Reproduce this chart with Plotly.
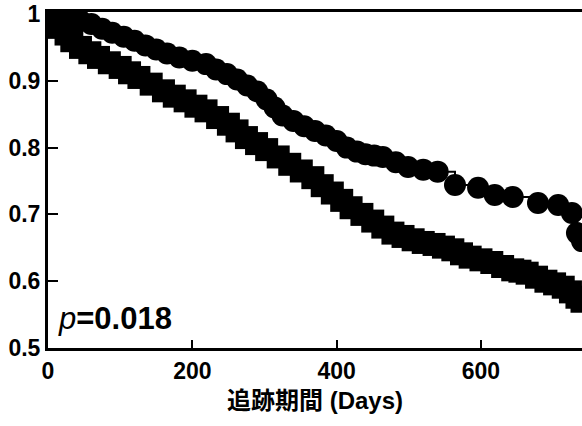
import plotly.graph_objects as go

# Upper curve (circles)
days_circle = [0, 10, 20, 30, 45, 60, 75, 89, 105, 120, 135, 150, 165, 182, 200, 219,
               233, 248, 262, 276, 290, 303, 314, 325, 340, 355, 370, 385, 400, 414,
               428, 440, 452, 464, 482, 499, 520, 540, 564, 596, 619, 644, 679, 707,
               726, 733, 740]
surv_circle = [1.0, 1.0, 0.997, 0.995, 0.99, 0.985, 0.978, 0.972, 0.966, 0.96, 0.953,
               0.947, 0.941, 0.935, 0.93, 0.925, 0.917, 0.91, 0.902, 0.893, 0.884, 0.872,
               0.86, 0.848, 0.84, 0.832, 0.825, 0.818, 0.81, 0.80, 0.794, 0.79, 0.788,
               0.786, 0.778, 0.771, 0.767, 0.764, 0.744, 0.74, 0.729, 0.726, 0.717,
               0.714, 0.702, 0.672, 0.66]

# Lower curve (squares)
days_square = [0, 8, 15, 25, 33, 45, 58, 70, 85, 100, 113, 126, 143, 160, 175, 190,
               205, 219, 235, 250, 262, 275, 289, 303, 319, 335, 351, 367, 380, 394,
               407, 420, 435, 450, 464, 478, 492, 506, 520, 535, 548, 561, 573, 585,
               600, 615, 630, 644, 654, 664, 677, 690, 702, 714, 724, 733, 740]
surv_square = [1.0, 0.99, 0.98, 0.97, 0.96, 0.95, 0.942, 0.935, 0.927, 0.92, 0.912,
               0.905, 0.895, 0.885, 0.877, 0.87, 0.862, 0.855, 0.845, 0.835, 0.825,
               0.815, 0.806, 0.797, 0.786, 0.775, 0.765, 0.755, 0.743, 0.732, 0.721,
               0.71, 0.70, 0.69, 0.681, 0.672, 0.667, 0.662, 0.658, 0.655, 0.651, 0.647,
               0.641, 0.636, 0.632, 0.628, 0.622, 0.617, 0.615, 0.612, 0.606, 0.60,
               0.596, 0.591, 0.584, 0.576, 0.57]

x_ticks = [0, 200, 400, 600]
y_ticks = [0.5, 0.6, 0.7, 0.8, 0.9, 1.0]
y_tick_text = ["0.5", "0.6", "0.7", "0.8", "0.9", "1"]

fig = go.Figure()
fig.add_trace(go.Scatter(
    x=days_circle, y=surv_circle, mode="lines+markers", line_shape="hv",
    line=dict(color="black", width=2),
    marker=dict(symbol="circle", size=22, color="black"),
    showlegend=False, cliponaxis=True))
fig.add_trace(go.Scatter(
    x=days_square, y=surv_square, mode="lines+markers", line_shape="hv",
    line=dict(color="black", width=2),
    marker=dict(symbol="square", size=23, color="black"),
    showlegend=False, cliponaxis=True))

font_main = "Liberation Sans, Arial"

fig.update_layout(
    width=582, height=426,
    margin=dict(l=48, r=0, t=12, b=78),
    paper_bgcolor="white", plot_bgcolor="white",
    font=dict(family=font_main, color="black"),
    xaxis=dict(range=[0, 740], tickvals=x_ticks,
               tickfont=dict(size=23, family=font_main, weight="bold"),
               ticks="inside", ticklen=8, tickwidth=2, tickcolor="black",
               showline=True, linewidth=3, linecolor="black", mirror=True,
               showgrid=False, zeroline=False,
               title=dict(text="<b>追跡期間 (Days)</b>",
                          font=dict(size=24, family="Liberation Sans, Noto Sans CJK JP"),
                          standoff=10)),
    yaxis=dict(range=[0.5, 1.003], tickvals=y_ticks, ticktext=y_tick_text,
               tickfont=dict(size=23, family=font_main, weight="bold"),
               ticks="inside", ticklen=10, tickwidth=2, tickcolor="black",
               showline=True, linewidth=3, linecolor="black",
               showgrid=False, zeroline=False),
    annotations=[dict(x=0.015, y=0.087, xref="paper", yref="paper",
                      xanchor="left", yanchor="middle", showarrow=False,
                      text="<i>p</i><b>=0.018</b>",
                      font=dict(size=31, family=font_main, color="black"))],
)

fig.write_html("out.html")
